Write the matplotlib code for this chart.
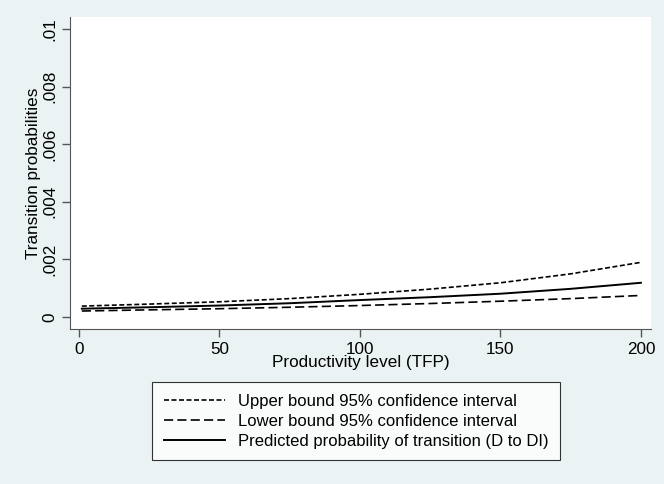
import matplotlib
matplotlib.use("Agg")
import matplotlib.pyplot as plt

# values
tfp = [1, 25, 50, 75, 100, 125, 150, 175, 200]
upper = [0.00038, 0.00045, 0.00053, 0.00064, 0.00079, 0.00097, 0.00119, 0.00150, 0.00190]
lower = [0.00021, 0.00025, 0.00029, 0.00034, 0.00040, 0.00047, 0.00055, 0.00064, 0.00075]
predicted = [0.00029, 0.00034, 0.00040, 0.00048, 0.00059, 0.00069, 0.00081, 0.00098, 0.00119]

x_ticks = [0, 50, 100, 150, 200]
y_ticks = [0, 0.002, 0.004, 0.006, 0.008, 0.01]
y_tick_labels = ["0", ".002", ".004", ".006", ".008", ".01"]

plt.rcParams['font.family'] = ['Liberation Sans', 'DejaVu Sans']

bg = "#eaf2f3"
fig = plt.figure(figsize=(6.64, 4.84), dpi=100, facecolor=bg)
ax = fig.add_axes([70 / 664, 1 - 329 / 484, 581 / 664, 312 / 484])
ax.set_facecolor("white")

l1, = ax.plot(tfp, upper, color="black", lw=1.2, linestyle=(0, (3, 1.5)))
l2, = ax.plot(tfp, lower, color="black", lw=1.2, linestyle=(0, (5.5, 2.5)))
l3, = ax.plot(tfp, predicted, color="black", lw=1.4)

ax.set_xlim(-3.2, 203.6)
ax.set_ylim(-0.000415, 0.01042)
ax.set_xticks(x_ticks)
ax.set_yticks(y_ticks)
ax.set_yticklabels(y_tick_labels, rotation=90, va="center")
ax.tick_params(axis="both", labelsize=12.3, length=6, color="#555555", width=1, pad=3)

for s in ["top", "right"]:
    ax.spines[s].set_visible(False)
for s in ["left", "bottom"]:
    ax.spines[s].set_color("#555555")

ax.set_xlabel("Productivity level (TFP)", fontsize=12.3, labelpad=-1)
ax.set_ylabel("Transition probabilities", fontsize=12.3, labelpad=1)

leg = fig.legend([l1, l2, l3],
                 ["Upper bound 95% confidence interval",
                  "Lower bound 95% confidence interval",
                  "Predicted probability of transition (D to DI)"],
                 loc="upper center", bbox_to_anchor=(356 / 664, 1 - 382 / 484),
                 fontsize=12, frameon=True, fancybox=False, handlelength=3.7,
                 borderpad=0.7, labelspacing=0.3, handletextpad=0.75,
                 borderaxespad=0)
leg.get_frame().set_edgecolor("black")
leg.get_frame().set_linewidth(0.8)

fig.savefig("out.png", dpi=100, facecolor=bg)
